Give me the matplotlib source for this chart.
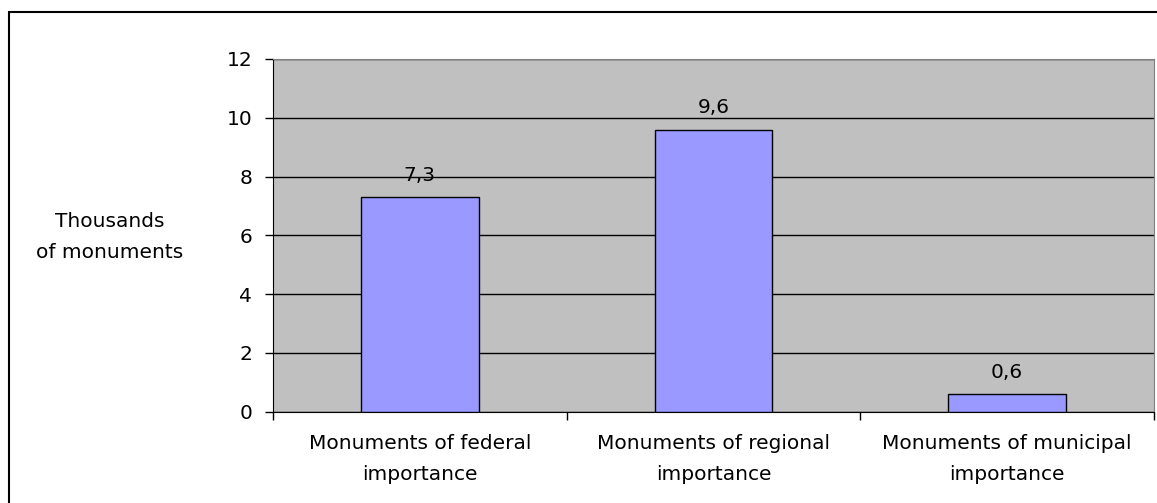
import matplotlib.pyplot as plt
from matplotlib.patches import Rectangle

categories = ["Monuments of federal\nimportance",
              "Monuments of regional\nimportance",
              "Monuments of municipal\nimportance"]
values = [7.3, 9.6, 0.6]
value_labels = ["7,3", "9,6", "0,6"]
y_ticks = [0, 2, 4, 6, 8, 10, 12]

plt.rcParams['font.family'] = ['DejaVu Sans']
FS = 14.5

fig = plt.figure(figsize=(11.57, 5.03), dpi=100)
ax = fig.add_axes([273 / 1157, 1 - 411.5 / 503, (1154 - 273) / 1157, (411.5 - 59) / 503])

# outer chart frame
fig.patches.append(Rectangle((9 / 1157, -0.1), 1.2, (503 - 12) / 503 + 0.1,
                             transform=fig.transFigure, fill=False,
                             edgecolor="black", linewidth=1.5))

ax.set_facecolor("#C0C0C0")
x = list(range(len(categories)))
ax.bar(x, values, width=0.4, color="#9999FF", edgecolor="black", linewidth=1, zorder=3)

for xi, v, lab in zip(x, values, value_labels):
    ax.text(xi, v + 0.42, lab, ha="center", va="bottom", fontsize=FS, zorder=4)

ax.set_xlim(-0.5, len(categories) - 0.5)
ax.set_ylim(0, 12)
ax.set_yticks(y_ticks)
ax.set_yticklabels([str(t) for t in y_ticks], fontsize=FS)
ax.yaxis.grid(True, color="black", linewidth=1, zorder=1)
ax.set_axisbelow(True)

ax.set_xticks([i - 0.5 for i in range(len(categories) + 1)])
ax.set_xticklabels([])
ax.set_xticks(x, minor=True)
ax.set_xticklabels(categories, minor=True, fontsize=FS)
for t in ax.get_xticklabels(minor=True):
    t.set_linespacing(1.8)
ax.tick_params(axis="x", which="minor", length=0, pad=16)
ax.tick_params(axis="x", which="major", length=6, width=1, direction="out")
ax.tick_params(axis="y", length=6, width=1, direction="out", pad=9)

ax.spines["left"].set_color("black")
ax.spines["bottom"].set_color("black")
ax.spines["top"].set_color("#808080")
ax.spines["right"].set_color("#808080")

ylab = ax.set_ylabel("Thousands\nof monuments", rotation=0, fontsize=FS,
                     ha="center", va="center", labelpad=0)
ylab.set_linespacing(1.8)
ax.yaxis.set_label_coords((110 - 273) / (1154 - 273), (411.5 - 237) / (411.5 - 59))

fig.savefig("out.png", dpi=100)
